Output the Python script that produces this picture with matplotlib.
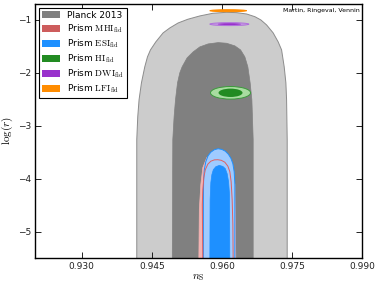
import matplotlib
matplotlib.use("Agg")
import matplotlib.pyplot as plt
from matplotlib.patches import Patch, Ellipse

plt.rcParams['mathtext.fontset'] = 'cm'
plt.rcParams['font.family'] = ['DejaVu Sans']

# ---------------- data ----------------
# Planck 2013, 95% region outline
planck95_ns = [0.94179, 0.94179, 0.94200, 0.94228, 0.94279, 0.94350, 0.94408, 0.94472,
               0.94586, 0.94742, 0.94886, 0.95064, 0.95271, 0.95529, 0.95807, 0.96101,
               0.96315, 0.96529, 0.96707, 0.96836, 0.96958, 0.97099, 0.97206, 0.97279,
               0.97335, 0.97371, 0.97386, 0.97399, 0.97399]
planck95_logr = [-5.6, -3.264, -2.830, -2.509, -2.189, -1.887, -1.698, -1.566,
                 -1.415, -1.245, -1.151, -1.057, -0.987, -0.924, -0.874, -0.855,
                 -0.862, -0.887, -0.938, -1.000, -1.094, -1.245, -1.415, -1.566,
                 -1.887, -2.189, -2.509, -3.264, -5.6]
# Planck 2013, 68% region outline
planck68_ns = [0.94939, 0.94950, 0.94978, 0.95008, 0.95051, 0.95100, 0.95149, 0.95256,
               0.95385, 0.95529, 0.95706, 0.95921, 0.96101, 0.96279, 0.96401, 0.96493,
               0.96557, 0.96606, 0.96643, 0.96671, 0.96671]
planck68_logr = [-5.6, -3.264, -2.830, -2.509, -2.189, -2.000, -1.887, -1.717,
                 -1.604, -1.509, -1.453, -1.428, -1.440, -1.490, -1.566, -1.698,
                 -1.887, -2.189, -2.509, -3.264, -5.6]

# Prism MHI_fid
mhi95_ns = [0.95507, 0.95518, 0.95550, 0.95593, 0.95679, 0.95893, 0.96107, 0.96214, 0.96279, 0.96300]
mhi95_logr = [-5.6, -4.58, -4.11, -3.79, -3.60, -3.53, -3.60, -3.79, -4.11, -5.6]
mhi68_ns = [0.95593, 0.95582, 0.95593, 0.95614, 0.95646, 0.95700, 0.95764, 0.95839,
            0.95914, 0.95989, 0.96064, 0.96129, 0.96171, 0.96199, 0.96221, 0.96236, 0.96243]
mhi68_logr = [-5.6, -4.491, -4.208, -3.981, -3.830, -3.726, -3.670, -3.645,
              -3.642, -3.653, -3.689, -3.764, -3.868, -4.057, -4.396, -4.868, -5.6]

# Prism ESI_fid
esi95_ns = [0.95604, 0.95604, 0.95610, 0.95625, 0.95657, 0.95706, 0.95764, 0.95839,
            0.95921, 0.96000, 0.96075, 0.96139, 0.96193, 0.96236, 0.96264, 0.96279, 0.96279]
esi95_logr = [-5.6, -4.396, -4.019, -3.830, -3.679, -3.566, -3.500, -3.453,
              -3.434, -3.447, -3.481, -3.538, -3.613, -3.717, -3.868, -4.113, -5.6]
esi68_ns = [0.95743, 0.95749, 0.95764, 0.95786, 0.95818, 0.95871, 0.95946, 0.96021,
            0.96075, 0.96114, 0.96144, 0.96165, 0.96171]
esi68_logr = [-5.6, -4.396, -4.075, -3.925, -3.830, -3.774, -3.749, -3.768,
              -3.811, -3.906, -4.057, -4.302, -5.6]

# Ellipse-shaped constraints: HI, DWI, LFI (centre, full widths at 95% and 68%)
ell_names = ["HI", "DWI", "LFI"]
ell_ns = [0.96186, 0.96161, 0.96136]
ell_logr = [-2.377, -1.079, -0.825]
ell_w95 = [0.00858, 0.00836, 0.00786]
ell_h95 = [0.238, 0.056, 0.038]
ell_w68 = [0.00514, 0.0050, 0.0060]
ell_h68 = [0.158, 0.036, 0.030]

x_ticks = [0.930, 0.945, 0.960, 0.975, 0.990]
x_ticklabels = ["0.930", "0.945", "0.960", "0.975", "0.990"]
y_ticks = [-5, -4, -3, -2, -1]

legend_labels = ["Planck 2013",
                 r"Prism $\mathrm{MHI}_{\rm fid}$",
                 r"Prism $\mathrm{ESI}_{\rm fid}$",
                 r"Prism $\mathrm{HI}_{\rm fid}$",
                 r"Prism $\mathrm{DWI}_{\rm fid}$",
                 r"Prism $\mathrm{LFI}_{\rm fid}$"]
legend_colors = ["#808080", "#cd5c5c", "#1e90ff", "#228b22", "#9932cc", "#ff8c00"]

# ---------------- figure ----------------
fig = plt.figure(figsize=(3.79, 2.90), dpi=100)
ax = fig.add_axes([0.0923, 0.1103, 0.9551 - 0.0923, 0.9859 - 0.1103])

ax.fill(planck95_ns, planck95_logr, facecolor="#cccccc", edgecolor="#8c8c8c", lw=0.7, zorder=1)
ax.fill(planck68_ns, planck68_logr, facecolor="#808080", edgecolor="#808080", lw=0.5, zorder=2)

ax.fill(mhi95_ns, mhi95_logr, facecolor="#f3b3b3", edgecolor="#f3b3b3", lw=0.5, zorder=3)
ax.fill(mhi68_ns, mhi68_logr, facecolor="#e07a7a", edgecolor="none", zorder=4)

ax.fill(esi95_ns, esi95_logr, facecolor="#9fcbff", edgecolor="#1e90ff", lw=0.7, zorder=5)
ax.fill(esi68_ns, esi68_logr, facecolor="#1e90ff", edgecolor="#1e90ff", lw=0.5, zorder=6)
ax.plot(mhi68_ns, mhi68_logr, color="#e06060", lw=0.7, zorder=7)

outer_fc = ["#a8dca0", "#c89ce4", "#ff8c00"]
outer_ec = ["#3c9a3c", "#b070dc", "#ff8c00"]
inner_fc = ["#228b22", "#9932cc", "#ff8c00"]
for i in range(len(ell_names)):
    ax.add_patch(Ellipse((ell_ns[i], ell_logr[i]), ell_w95[i], ell_h95[i],
                         facecolor=outer_fc[i], edgecolor=outer_ec[i], lw=0.7, zorder=8))
    ax.add_patch(Ellipse((ell_ns[i], ell_logr[i]), ell_w68[i], ell_h68[i],
                         facecolor=inner_fc[i], edgecolor="none", zorder=9))

ax.set_xlim(0.92, 0.99)
ax.set_ylim(-5.5, -0.7)
ax.set_xticks(x_ticks)
ax.set_xticklabels(x_ticklabels)
ax.set_yticks(y_ticks)
ax.tick_params(direction="in", top=True, right=True, length=4, width=0.6,
               labelsize=6.5, pad=3, labelcolor="#222222")
for s in ax.spines.values():
    s.set_linewidth(1.0)
    s.set_zorder(20)

ax.set_xlabel(r"$n_\mathrm{S}$", fontsize=8, labelpad=1)
ax.set_ylabel(r"$\log(r)$", fontsize=8, labelpad=2)

ax.text(0.992, 0.985, "Martin, Ringeval, Vennin", transform=ax.transAxes,
        ha="right", va="top", fontsize=4.5, zorder=21)

handles = [Patch(facecolor=c, edgecolor="none") for c in legend_colors]
leg = ax.legend(handles, legend_labels, loc="upper left", fontsize=6.5,
                fancybox=False, framealpha=1, edgecolor="black",
                handlelength=2.0, handleheight=0.8, labelspacing=0.28,
                borderaxespad=0.4, handletextpad=0.8, borderpad=0.35)
leg.get_frame().set_linewidth(0.8)
leg.set_zorder(30)

fig.savefig("out.png", dpi=100)
